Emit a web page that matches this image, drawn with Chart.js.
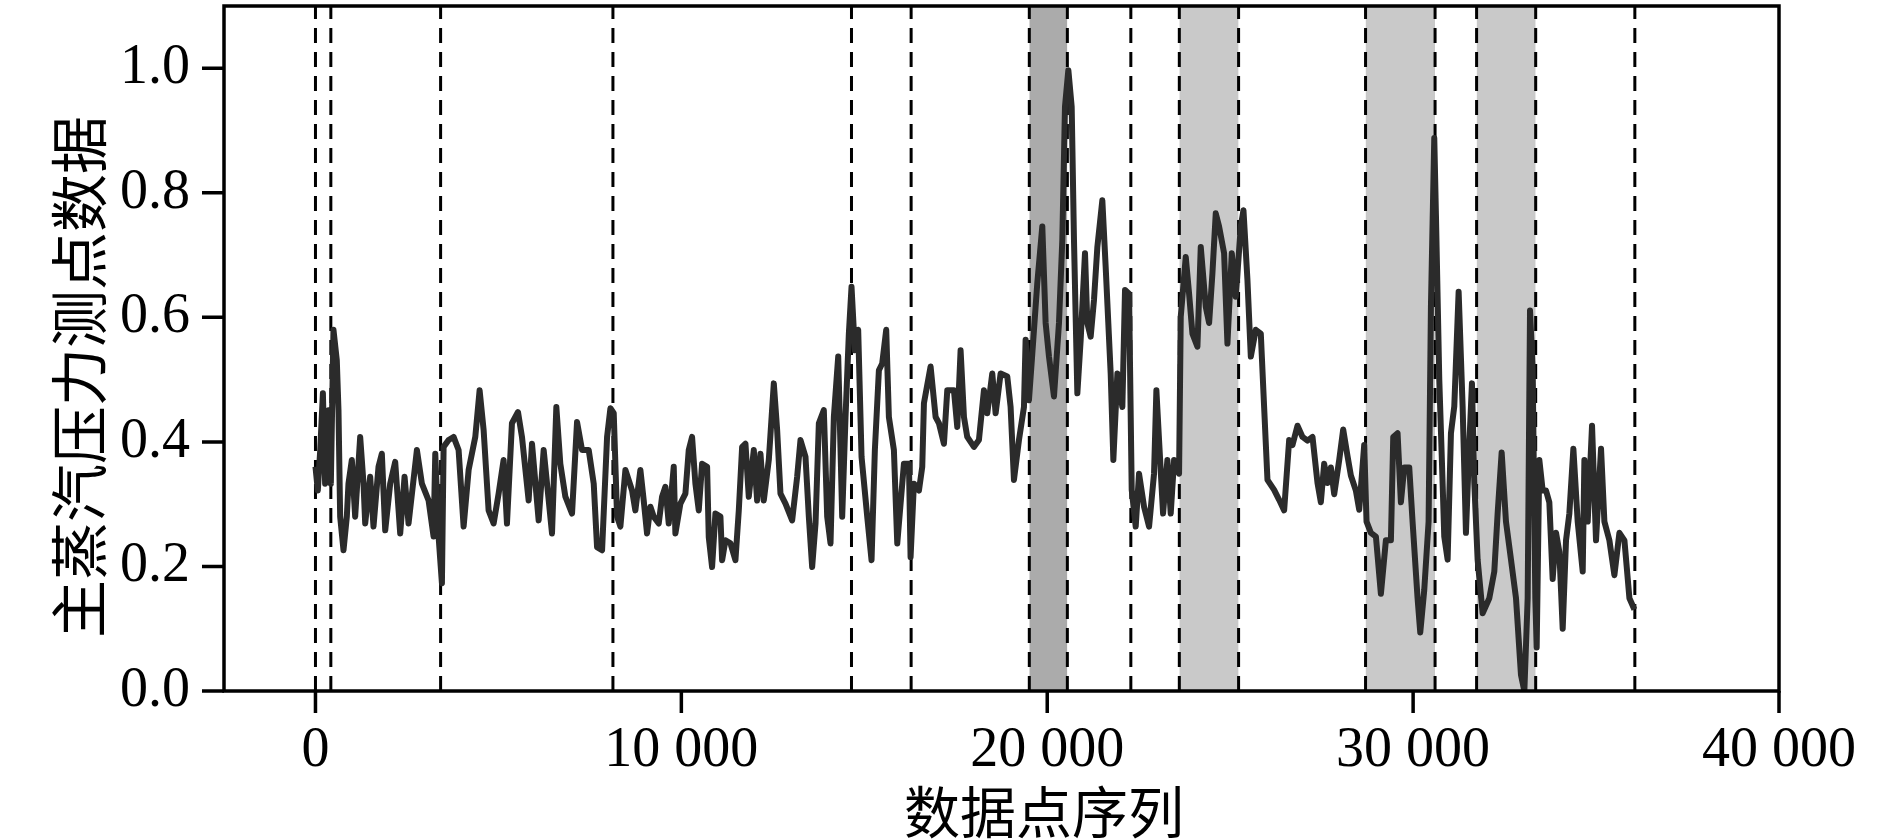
<!DOCTYPE html>
<html>
<head>
<meta charset="utf-8">
<title>主蒸汽压力测点数据</title>
<script src="https://cdn.jsdelivr.net/npm/chart.js"></script>
<style>
    html, body { margin: 0; padding: 0; background: #fff; }
    #chart { display: block; }
</style>
</head>
<body>
<canvas id="chart" width="1890" height="840"></canvas>
<script>
// sample positions (data point index) and readings
const sampleIdx = [
    0, 64, 130, 203, 264, 355, 420, 492, 583, 629, 675, 766, 857, 902, 994, 1085, 1222, 1313, 1359, 1495,
    1586, 1723, 1814, 1906, 2042, 2179, 2316, 2435, 2544, 2772, 2909, 3091, 3228, 3274, 3365, 3456, 3502, 3639, 3775, 3912,
    4049, 4186, 4368, 4486, 4596, 4732, 4869, 5006, 5142, 5234, 5370, 5535, 5644, 5826, 5918, 6100, 6237, 6465, 6583, 6692,
    6830, 7012, 7149, 7286, 7468, 7605, 7696, 7833, 7970, 8061, 8152, 8243, 8334, 8471, 8653,
    8743, 8880, 8971, 9062, 9154, 9245, 9382, 9473, 9564, 9655, 9792, 9837, 9974, 10111, 10202, 10293, 10384, 10476, 10567, 10704,
    10749, 10840, 10931, 11068, 11114, 11205, 11342, 11478, 11570, 11661, 11752, 11843, 11980, 12071, 12162, 12253, 12390, 12527, 12618, 12709,
    12846, 13028, 13165, 13256, 13393, 13484, 13575, 13667, 13758, 13894, 13986, 14077, 14168, 14287, 14396, 14487, 14578, 14651, 14742, 14833,
    14925, 15080, 15198, 15289, 15399, 15490, 15599, 15672, 15809, 15901, 15992, 16083, 16220, 16265, 16356, 16493, 16584, 16630, 16812, 16949,
    17040, 17177, 17268, 17450, 17541, 17632, 17724,
    17814, 17996, 18133, 18270, 18361, 18498, 18589, 18726, 18908, 18999, 19090, 19227, 19364, 19409, 19500, 19592, 19728, 19865, 19956, 20048,
    20184, 20321, 20412, 20485, 20577, 20668, 20731, 20823, 20914, 21032, 21096, 21187, 21278, 21370, 21506, 21597, 21734, 21807, 21917, 22053,
    22126, 22236, 22309, 22418, 22509, 22646, 22783, 22919, 22983, 23056, 23166, 23284, 23375, 23467, 23603, 23649, 23786, 23877, 23968, 24105,
    24196, 24333, 24424, 24515, 24606, 24697, 24834, 24925, 25044, 25153, 25290, 25363, 25472, 25564, 25700, 25837, 25928, 26019, 26201, 26338,
    26475, 26612,
    26703, 26840, 26977, 27113, 27250, 27387, 27478, 27569, 27660, 27752, 27843, 27980, 28089, 28208, 28299, 28435, 28527, 28663, 28727, 28846,
    28983, 29119, 29256, 29393, 29457, 29575, 29666, 29757, 29894, 29985, 30122, 30195, 30304, 30423, 30487, 30578, 30624, 30715, 30806, 30851,
    30943, 31034, 31125, 31244, 31353, 31444, 31535, 31608, 31672, 31763, 31900, 32082, 32219, 32310, 32420, 32538, 32675, 32812, 32948, 33040,
    33131, 33195, 33267, 33340, 33377, 33450, 33541, 33632, 33723, 33814, 33906, 33997, 34088, 34179, 34270, 34380, 34498, 34635, 34681, 34772,
    34890, 34999, 35136, 35228, 35364, 35501, 35638, 35775, 35912, 36048
];
const pressure = [
    0.360, 0.322, 0.387, 0.478, 0.333, 0.451, 0.333, 0.580, 0.531, 0.451, 0.280, 0.226, 0.280, 0.333, 0.371, 0.280, 0.408, 0.333, 0.269, 0.344,
    0.264, 0.360, 0.381, 0.258, 0.333, 0.368, 0.253, 0.344, 0.269, 0.387, 0.333, 0.306, 0.248, 0.381, 0.248, 0.173, 0.392, 0.403, 0.408, 0.387,
    0.264, 0.355, 0.408, 0.483, 0.419, 0.290, 0.269, 0.317, 0.371, 0.269, 0.430, 0.448, 0.408, 0.306, 0.397, 0.274, 0.387, 0.253, 0.456, 0.365,
    0.312, 0.285, 0.432, 0.387, 0.387, 0.333, 0.231, 0.226, 0.408, 0.454, 0.446, 0.280, 0.264, 0.355, 0.322,
    0.290, 0.355, 0.306, 0.253, 0.296, 0.280, 0.269, 0.312, 0.328, 0.269, 0.360, 0.253, 0.301, 0.317, 0.387, 0.408, 0.333, 0.290, 0.365, 0.360,
    0.247, 0.199, 0.285, 0.280, 0.210, 0.242, 0.237, 0.210, 0.290, 0.392, 0.397, 0.312, 0.387, 0.306, 0.381, 0.306, 0.371, 0.494, 0.419, 0.317,
    0.301, 0.274, 0.344, 0.403, 0.376, 0.280, 0.199, 0.269, 0.430, 0.451, 0.280, 0.237, 0.440, 0.537, 0.280, 0.440, 0.574, 0.649, 0.547, 0.580,
    0.376, 0.280, 0.210, 0.387, 0.515, 0.526, 0.580, 0.440, 0.387, 0.237, 0.301, 0.365, 0.365, 0.215, 0.333, 0.322, 0.360, 0.462, 0.521, 0.440,
    0.430, 0.397, 0.483, 0.483, 0.424, 0.547, 0.440,
    0.408, 0.392, 0.403, 0.483, 0.446, 0.510, 0.446, 0.510, 0.505, 0.456, 0.339, 0.403, 0.456, 0.564, 0.467, 0.542, 0.655, 0.746, 0.591, 0.537,
    0.473, 0.591, 0.724, 0.938, 0.997, 0.938, 0.724, 0.478, 0.564, 0.703, 0.591, 0.569, 0.628, 0.713, 0.788, 0.681, 0.510, 0.371, 0.510, 0.456,
    0.644, 0.638, 0.323, 0.264, 0.349, 0.296, 0.264, 0.349, 0.483, 0.403, 0.285, 0.371, 0.285, 0.371, 0.349, 0.601, 0.697, 0.638, 0.574, 0.553,
    0.713, 0.617, 0.591, 0.671, 0.767, 0.746, 0.703, 0.558, 0.703, 0.633, 0.746, 0.772, 0.660, 0.537, 0.580, 0.574, 0.456, 0.339, 0.323, 0.307,
    0.290, 0.403,
    0.395, 0.426, 0.408, 0.402, 0.408, 0.334, 0.303, 0.365, 0.334, 0.359, 0.316, 0.371, 0.420, 0.377, 0.346, 0.322, 0.291, 0.395, 0.272, 0.254,
    0.248, 0.156, 0.242, 0.242, 0.408, 0.414, 0.303, 0.359, 0.359, 0.272, 0.149, 0.094, 0.162, 0.272, 0.617, 0.888, 0.764, 0.500, 0.334, 0.248,
    0.211, 0.414, 0.457, 0.641, 0.457, 0.254, 0.395, 0.494, 0.334, 0.211, 0.125, 0.149, 0.192, 0.285, 0.383, 0.272, 0.211, 0.149, 0.026, 0.000,
    0.149, 0.611, 0.518, 0.149, 0.070, 0.371, 0.322, 0.322, 0.303, 0.180, 0.254, 0.223, 0.100, 0.242, 0.285, 0.389, 0.272, 0.192, 0.371, 0.272,
    0.426, 0.242, 0.389, 0.272, 0.242, 0.186, 0.254, 0.242, 0.149, 0.131
];

// dashed markers and shaded stages
const eventLines = [0, 420, 3420, 8130, 14650, 16280, 19510, 20550, 22285, 23610, 25230, 28700, 30600, 31735, 33350, 36060];
const bandStart = [19510, 23610, 28700, 31735];
const bandEnd = [20550, 25230, 30600, 33350];
const bandShade = ['#ababab', '#c9c9c9', '#c9c9c9', '#c9c9c9'];

const xLabelled = [0, 10000, 20000, 30000, 40000];
const yLabelled = [0, 0.2, 0.4, 0.6, 0.8, 1.0];
const xTitle = '数据点序列';
const yTitle = '主蒸汽压力测点数据';

const serif = '"Liberation Serif", "Times New Roman", serif';
const cjk = '"Noto Sans CJK SC", sans-serif';

const lineData = sampleIdx.map((x, i) => ({ x: x, y: pressure[i] }));

const dashData = [];
eventLines.forEach(x => {
    dashData.push({ x: x, y: 0 }, { x: x, y: 1.1 }, { x: x, y: null });
});

const bandSets = bandStart.map((s, i) => ({
    data: [{ x: s, y: 1.1 }, { x: bandEnd[i], y: 1.1 }],
    fill: 'origin',
    backgroundColor: bandShade[i],
    borderColor: 'transparent',
    borderWidth: 0,
    pointRadius: 0,
    order: 3
}));

function spaced(v) {
    return String(v).replace(/\B(?=(\d{3})+(?!\d))/g, ' ');
}

// ticks, frame and axis titles
const framePlugin = {
    id: 'frame',
    afterDatasetsDraw(chart) {
        const { ctx, chartArea: a, scales } = chart;
        const x = scales.x, y = scales.y;
        ctx.save();
        ctx.strokeStyle = '#000';
        ctx.lineWidth = 3.5;
        ctx.beginPath();
        x.ticks.forEach(t => {
            const px = x.getPixelForValue(t.value);
            const len = Math.round(t.value) % 5000 === 0 ? 22 : 11;
            ctx.moveTo(px, a.bottom);
            ctx.lineTo(px, a.bottom + len);
        });
        y.ticks.forEach(t => {
            if (t.value > 1.05) return;
            const py = y.getPixelForValue(t.value);
            const len = Math.round(t.value * 10) % 2 === 0 ? 22 : 10;
            ctx.moveTo(a.left, py);
            ctx.lineTo(a.left - len, py);
        });
        ctx.stroke();
        ctx.strokeRect(a.left, a.top, a.right - a.left, a.bottom - a.top);

        ctx.fillStyle = '#000';
        ctx.textAlign = 'center';
        ctx.textBaseline = 'middle';
        ctx.font = '56px ' + cjk;
        ctx.fillText(xTitle, 1044, 812);
        ctx.translate(79, 377);
        ctx.rotate(-Math.PI / 2);
        ctx.font = '58px ' + cjk;
        ctx.fillText(yTitle, 0, 0);
        ctx.restore();
    }
};

new Chart(document.getElementById('chart'), {
    type: 'line',
    data: {
        datasets: [
            {
                data: lineData,
                borderColor: '#2b2b2b',
                borderWidth: 6,
                borderJoinStyle: 'round',
                pointRadius: 0,
                tension: 0,
                fill: false,
                order: 0
            },
            {
                data: dashData,
                borderColor: '#000',
                borderWidth: 3,
                borderDash: [15, 9],
                pointRadius: 0,
                spanGaps: false,
                fill: false,
                order: 1
            },
            ...bandSets
        ]
    },
    options: {
        responsive: false,
        animation: false,
        devicePixelRatio: 1,
        layout: { padding: { top: 6, right: 111, left: 0, bottom: 0 } },
        plugins: {
            legend: { display: false },
            tooltip: { enabled: false }
        },
        scales: {
            x: {
                type: 'linear',
                min: -2500,
                max: 40000,
                grid: { display: false, drawTicks: false },
                border: { display: false },
                ticks: {
                    stepSize: 2500,
                    autoSkip: false,
                    maxRotation: 0,
                    padding: 27,
                    color: '#000',
                    font: { family: serif, size: 56 },
                    callback: v => xLabelled.includes(Math.round(v)) ? spaced(Math.round(v)) : null
                },
                afterFit: s => {
                    s.height = 149;
                    s.paddingLeft = 0;
                    s.paddingRight = 0;
                }
            },
            y: {
                min: 0,
                max: 1.1,
                grid: { display: false, drawTicks: false },
                border: { display: false },
                ticks: {
                    stepSize: 0.1,
                    autoSkip: false,
                    padding: 34,
                    color: '#000',
                    font: { family: serif, size: 56 },
                    callback: v => yLabelled.some(t => Math.abs(t - v) < 1e-6) ? v.toFixed(1) : null
                },
                afterFit: s => {
                    s.width = 224;
                    s.paddingTop = 0;
                    s.paddingBottom = 0;
                }
            }
        }
    },
    plugins: [framePlugin]
});
</script>
</body>
</html>
